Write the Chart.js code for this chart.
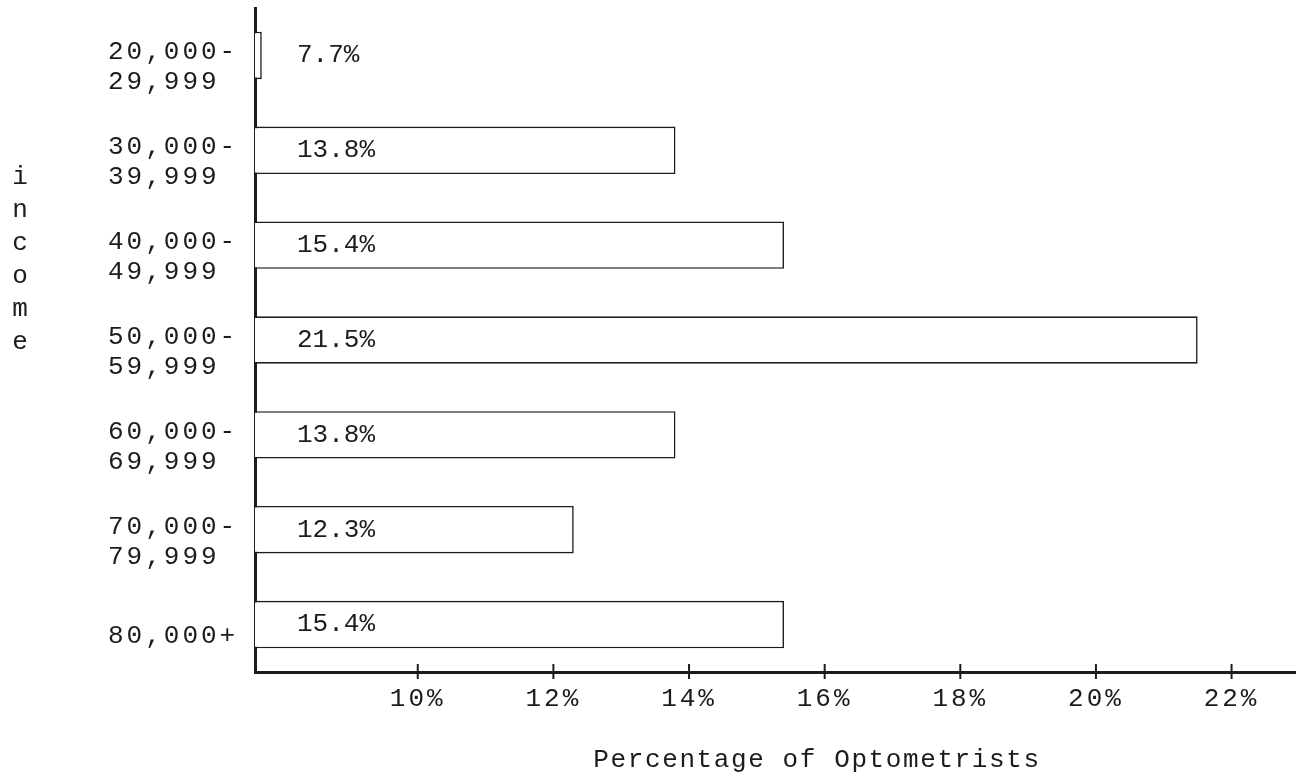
<!DOCTYPE html>
<html>
<head>
<meta charset="utf-8">
<script src="https://cdn.jsdelivr.net/npm/chart.js@4"></script>
<style>
  html, body { margin: 0; padding: 0; background: #fff; }
  canvas { display: block; }
</style>
</head>
<body>
<canvas id="grafico" width="1296" height="782"></canvas>
<script>
const incomeLabels = [
  ['20,000-', '29,999'],
  ['30,000-', '39,999'],
  ['40,000-', '49,999'],
  ['50,000-', '59,999'],
  ['60,000-', '69,999'],
  ['70,000-', '79,999'],
  ['80,000+']
];
const shares = [7.7, 13.8, 15.4, 21.5, 13.8, 12.3, 15.4];
const xTicks = [10, 12, 14, 16, 18, 20, 22];
const yTitle = 'income';
const xTitle = 'Percentage of Optometrists';

const ink = '#1c1c1c';
const mono = '"Liberation Mono", "Courier New", monospace';

// typewriter look: spaced letters, crossing tick marks, labels inside the bars
const typewriter = {
  id: 'typewriter',
  beforeLayout(chart) { chart.ctx.letterSpacing = '3px'; },
  beforeDraw(chart) { chart.ctx.letterSpacing = '3px'; },
  afterDraw(chart) {
    const { ctx, chartArea, scales: { x } } = chart;
    ctx.save();
    ctx.strokeStyle = ink;
    ctx.lineWidth = 2;
    x.ticks.forEach(t => {
      const px = x.getPixelForValue(t.value);
      ctx.beginPath();
      ctx.moveTo(px, chartArea.bottom - 8);
      ctx.lineTo(px, chartArea.bottom + 7);
      ctx.stroke();
    });

    ctx.fillStyle = ink;
    ctx.letterSpacing = '0px';
    ctx.font = '26px ' + mono;
    ctx.textBaseline = 'middle';
    ctx.textAlign = 'left';
    chart.getDatasetMeta(0).data.forEach((bar, i) => {
      ctx.fillText(shares[i] + '%', chartArea.left + 42, bar.y);
    });

    ctx.textAlign = 'center';
    [...yTitle].forEach((ch, i) => ctx.fillText(ch, 20, 177 + i * 33));

    ctx.letterSpacing = '1.6px';
    ctx.fillText(xTitle, 817, 760);
    ctx.restore();
  }
};

new Chart(document.getElementById('grafico'), {
  type: 'bar',
  data: {
    labels: incomeLabels,
    datasets: [{
      data: shares,
      backgroundColor: '#ffffff',
      borderColor: ink,
      borderWidth: 1.6,
      borderSkipped: 'start',
      barPercentage: 0.5,
      categoryPercentage: 1
    }]
  },
  options: {
    indexAxis: 'y',
    responsive: false,
    animation: false,
    layout: { padding: { left: 108, right: 0, top: 8, bottom: 67 } },
    plugins: { legend: { display: false }, tooltip: { enabled: false } },
    scales: {
      x: {
        type: 'linear',
        min: 7.6,
        max: 22.95,
        afterBuildTicks: axis => { axis.ticks = xTicks.map(v => ({ value: v })); },
        afterFit: axis => { axis.height = 43; axis.paddingLeft = 0; axis.paddingRight = 0; },
        grid: { display: false, drawTicks: false },
        border: { display: true, color: ink, width: 3 },
        ticks: {
          color: ink,
          font: { family: mono, size: 26 },
          padding: 12,
          maxRotation: 0,
          callback: v => v + '%'
        }
      },
      y: {
        afterFit: axis => { axis.width = 147; axis.paddingTop = 0; axis.paddingBottom = 0; },
        grid: { display: false, drawTicks: false },
        border: { display: true, color: ink, width: 3 },
        ticks: {
          color: ink,
          font: { family: mono, size: 26, lineHeight: 1.15 },
          crossAlign: 'far',
          padding: 17,
          labelOffset: 12,
          autoSkip: false
        }
      }
    }
  },
  plugins: [typewriter]
});
</script>
</body>
</html>
